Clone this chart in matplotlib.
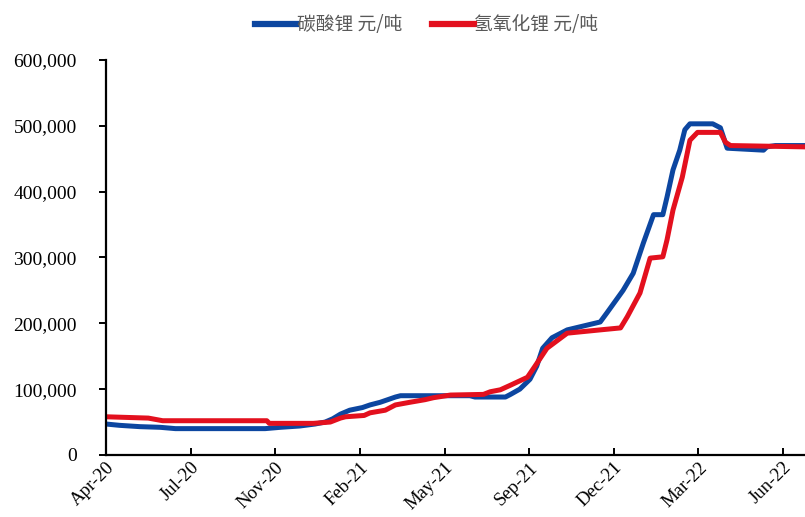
import datetime as dt
import matplotlib.pyplot as plt
import matplotlib.dates as mdates
import matplotlib.ticker as mticker

# 碳酸锂 price, 元/吨
carb_dates = ["2020-04-20", "2020-05-06", "2020-05-30", "2020-06-23", "2020-07-11",
              "2020-10-25", "2020-11-12", "2020-12-05", "2020-12-23", "2021-01-04",
              "2021-01-13", "2021-01-22", "2021-02-02", "2021-02-17", "2021-02-26",
              "2021-03-10", "2021-03-19", "2021-03-28", "2021-04-03", "2021-06-24",
              "2021-06-30", "2021-08-05", "2021-08-11", "2021-08-22", "2021-09-03",
              "2021-09-11", "2021-09-18", "2021-09-29", "2021-10-17", "2021-11-25",
              "2021-12-03", "2021-12-22", "2022-01-03", "2022-01-15", "2022-01-27",
              "2022-02-07", "2022-02-12", "2022-02-19", "2022-02-27", "2022-03-05",
              "2022-03-11", "2022-04-07", "2022-04-16", "2022-04-24", "2022-06-06",
              "2022-06-10", "2022-06-20", "2022-07-25"]
carb_vals = [47000, 45000, 43000, 42000, 40000,
             40000, 42000, 44000, 47000, 50000,
             55000, 62000, 68000, 72000, 76000,
             80000, 84000, 88000, 90000, 90000,
             88000, 88000, 92000, 100000, 115000,
             135000, 162000, 178000, 190000, 202000,
             216000, 250000, 276000, 322000, 365000,
             365000, 392000, 433000, 463000, 494000,
             503000, 503000, 497000, 466000, 463000,
             468000, 470000, 470000]

# 氢氧化锂 price, 元/吨
hydr_dates = ["2020-04-20", "2020-06-09", "2020-06-26", "2020-10-27", "2020-10-30",
              "2020-12-21", "2021-01-10", "2021-01-22", "2021-01-28", "2021-02-19",
              "2021-02-26", "2021-03-16", "2021-03-28", "2021-04-14", "2021-05-02",
              "2021-05-12", "2021-06-01", "2021-07-10", "2021-07-18", "2021-07-30",
              "2021-08-11", "2021-08-31", "2021-09-09", "2021-09-23", "2021-10-17",
              "2021-11-25", "2021-12-19", "2021-12-27", "2022-01-11", "2022-01-23",
              "2022-02-07", "2022-02-12", "2022-02-19", "2022-03-02", "2022-03-11",
              "2022-03-20", "2022-04-16", "2022-04-22", "2022-04-28", "2022-07-25"]
hydr_vals = [58000, 56000, 52000, 52000, 48000,
             48000, 50000, 56000, 58000, 60000,
             64000, 68000, 76000, 80000, 84000,
             87000, 91000, 92000, 96000, 99000,
             106000, 118000, 135000, 162000, 185000,
             190000, 193000, 210000, 246000, 299000,
             301000, 327000, 372000, 422000, 478000,
             490000, 490000, 475000, 470000, 468000]

series_names = ["碳酸锂 元/吨", "氢氧化锂 元/吨"]

def to_dates(lst):
    return [dt.datetime.strptime(s, "%Y-%m-%d") for s in lst]

plt.rcParams['font.family'] = ['Liberation Serif', 'Noto Sans CJK SC']

fig = plt.figure(figsize=(8.05, 5.17), dpi=100)
ax = fig.add_axes([0.1317, 0.12, 0.8683, 0.764])

ax.plot(to_dates(carb_dates), carb_vals, color='#0C46A0', lw=3.6, label=series_names[0])
ax.plot(to_dates(hydr_dates), hydr_vals, color='#E3101E', lw=3.6, label=series_names[1])

start = dt.datetime(2020, 4, 20)
ticks = [start + dt.timedelta(days=100 * i) for i in range(9)]
ax.set_xticks(ticks)
ax.xaxis.set_major_formatter(mdates.DateFormatter('%b-%y'))
ax.set_xlim(start, dt.datetime(2022, 7, 25))
ax.set_ylim(0, 600000)
ax.set_yticks(range(0, 600001, 100000))
ax.yaxis.set_major_formatter(mticker.FuncFormatter(lambda v, p: f"{int(v):,}"))

for s in ['top', 'right']:
    ax.spines[s].set_visible(False)
for s in ['left', 'bottom']:
    ax.spines[s].set_linewidth(1.6)

ax.tick_params(axis='y', direction='out', length=5, width=1.4, labelsize=14, pad=16)
ax.tick_params(axis='x', direction='in', length=5, width=1.4, labelsize=13.5, pad=3)
for lab in ax.get_xticklabels():
    lab.set_rotation(45)
    lab.set_ha('right')
    lab.set_va('top')
    lab.set_rotation_mode('anchor')
    lab.set_x(lab.get_position()[0])

leg = fig.legend(loc='upper center', bbox_to_anchor=(0.53, 1.005), ncol=2, frameon=False,
                 handlelength=2.2, columnspacing=1.6, handletextpad=0.05,
                 prop={'family': ['Noto Sans CJK SC'], 'size': 13.5})
for t in leg.get_texts():
    t.set_color('#595959')
for h in leg.get_lines():
    h.set_linewidth(4.5)

fig.savefig('out.png', dpi=100)
